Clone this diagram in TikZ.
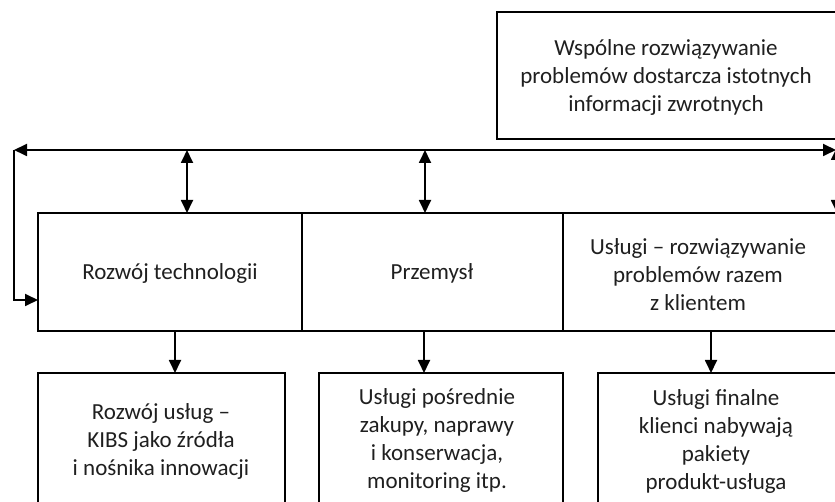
\documentclass[tikz,border=0pt]{standalone}
\usepackage{fontspec}
\setmainfont{Carlito}
\usetikzlibrary{arrows.meta,calc}
\begin{document}
\begin{tikzpicture}[x=1pt,y=-1pt,
  box/.style={draw, line width=1.8pt, anchor=north west, inner sep=0pt, outer sep=0pt},
  txt/.style={align=center, font=\fontsize{23}{28}\selectfont, text=black!88},
  conn/.style={line width=1.8pt, -{Triangle[length=13pt,width=12pt]}},
  dconn/.style={line width=1.8pt, {Triangle[length=13pt,width=12pt]}-{Triangle[length=13pt,width=12pt]}}]
\useasboundingbox (0,0) rectangle (835,502);
\clip (0,0) rectangle (835,502);
% top box
\node[box, minimum width=339pt, minimum height=127pt] (fb) at (497,12) {};
\node[txt] (fbt) at (666,77)
  {Wspólne rozwiązywanie\\problemów dostarcza istotnych\\informacji zwrotnych};
% middle row
\node[box, minimum width=264pt, minimum height=118pt] (m1) at (38,213) {};
\node[box, minimum width=261pt, minimum height=118pt] (m2) at (302,213) {};
\node[box, minimum width=273pt, minimum height=118pt] (m3) at (563,213) {};
\node[txt] (m1t) at (170,273) {Rozwój technologii};
\node[txt] (m2t) at (432,273) {Przemysł};
\node[txt] (m3t) at (698,275)
  {Usługi – rozwiązywanie\\problemów razem\\z klientem};
% bottom row
\node[box, minimum width=247pt, minimum height=136pt] (b1) at (38,373) {};
\node[box, minimum width=244pt, minimum height=136pt] (b2) at (319,373) {};
\node[box, minimum width=238pt, minimum height=136pt] (b3) at (598,373) {};
\node[txt] (b1t) at (161,441)
  {Rozwój usług –\\KIBS jako źródła\\i nośnika innowacji};
\node[txt] (b2t) at (437,440)
  {Usługi pośrednie\\zakupy, naprawy\\i konserwacja,\\monitoring itp.};
\node[txt] (b3t) at (716,441)
  {Usługi finalne\\klienci nabywają\\pakiety\\produkt-usługa};
% connectors
\coordinate (hl) at (14,150);
\coordinate (hr) at (836,150);
\coordinate (lw) at (38,300);
\coordinate (t1) at (187,150);
\coordinate (t2) at (425,150);
\coordinate (t3) at (837,150);
\coordinate (d1) at (175,0);
\coordinate (d2) at (424,0);
\coordinate (d3) at (711,0);
\draw[dconn] (hl) -- (hr);
\draw[conn] (hl) |- (lw);
\draw[dconn] (t1) -- (t1 |- m1.north);
\draw[dconn] (t2) -- (t2 |- m2.north);
\draw[dconn] ([yshift=3pt]t3) -- (t3 |- m3.north);
\draw[conn] (m1.south -| d1) -- (b1.north -| d1);
\draw[conn] (m2.south -| d2) -- (b2.north -| d2);
\draw[conn] (m3.south -| d3) -- (b3.north -| d3);
\end{tikzpicture}
\end{document}
